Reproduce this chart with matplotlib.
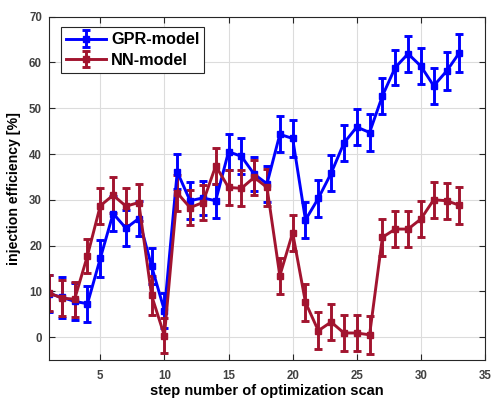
import matplotlib
matplotlib.use("Agg")
import matplotlib.pyplot as plt
import numpy as np

plt.rcParams['font.family'] = ['Liberation Sans', 'DejaVu Sans']
plt.rcParams['font.weight'] = 'bold'

steps = list(range(1, 34))
gpr = [9.5, 8.7, 7.8, 7.3, 17.2, 27.0, 23.8, 25.9, 15.5, 5.8,
       36.1, 29.8, 30.4, 29.8, 40.5, 39.5, 35.6, 33.5, 44.3, 43.4,
       25.6, 30.3, 35.8, 42.4, 45.9, 44.7, 52.7, 58.9, 61.9, 59.2,
       54.9, 58.1, 62.1]
gpr_err = [4.0, 4.5, 4.0, 3.9, 4.0, 3.9, 4.0, 3.9, 3.9, 3.9,
           3.8, 4.0, 3.8, 3.7, 3.9, 3.9, 3.7, 3.9, 3.9, 4.0,
           4.0, 4.0, 3.9, 4.0, 3.9, 4.1, 4.0, 3.9, 3.9, 4.0,
           4.0, 4.1, 4.1]
nn = [9.7, 8.5, 8.3, 17.8, 28.7, 31.0, 28.6, 29.4, 9.1, 0.3,
      31.5, 28.3, 29.4, 37.4, 32.7, 32.5, 34.9, 32.7, 13.4, 22.8,
      7.6, 1.4, 3.3, 0.9, 0.9, 0.5, 21.8, 23.6, 23.6, 25.8,
      30.0, 29.8, 28.8]
nn_err = [3.9, 3.9, 3.8, 3.7, 3.9, 3.9, 4.0, 4.0, 4.2, 3.8,
          4.0, 3.8, 3.9, 4.0, 3.9, 3.9, 3.9, 4.0, 3.9, 3.9,
          4.0, 4.0, 3.9, 4.0, 4.0, 4.1, 4.0, 3.9, 3.9, 3.9,
          3.9, 3.9, 4.1]
labels = ['GPR-model', 'NN-model']
colors = ['#0000ff', '#a2142f']

fig = plt.figure(figsize=(4.91, 4.01), dpi=100)
ax = fig.add_axes([49/491, 41/401, 436/491, 343.3/401])

for y, e, c, lab in [(gpr, gpr_err, colors[0], labels[0]),
                     (nn, nn_err, colors[1], labels[1])]:
    ax.errorbar(steps, y, yerr=e, color=c, lw=2.1, elinewidth=2.1,
                capsize=3.2, capthick=2.1, marker='s', markersize=3.8,
                label=lab)

ax.set_xlim(1, 35)
ax.set_ylim(-5, 70)
ax.set_xticks([5, 10, 15, 20, 25, 30, 35])
ax.set_yticks(range(0, 71, 10))
ax.grid(True, color='#dcdcdc', lw=0.8)
ax.set_axisbelow(True)
ax.tick_params(direction='in', length=4, width=0.8, top=True, right=True,
               colors='#262626', labelsize=8.3, labelcolor='#404040')
ax.tick_params(axis='x', pad=7.5)
ax.tick_params(axis='y', pad=5)
for s in ax.spines.values():
    s.set_color('#262626')
    s.set_linewidth(0.8)
ax.set_xlabel('step number of optimization scan', fontsize=10.5,
              fontweight='bold', labelpad=1.5)
ax.set_ylabel('injection efficiency [%]', fontsize=10.2,
              fontweight='bold', labelpad=6)

leg = ax.legend(loc='upper left', bbox_to_anchor=(0.027, 0.969),
                borderaxespad=0, fontsize=11.7, handlelength=2.5,
                handletextpad=0.3, borderpad=0.3, labelspacing=0.35,
                fancybox=False, framealpha=1, edgecolor='#262626')
leg.get_frame().set_linewidth(0.8)

fig.savefig('out.png', dpi=100)
